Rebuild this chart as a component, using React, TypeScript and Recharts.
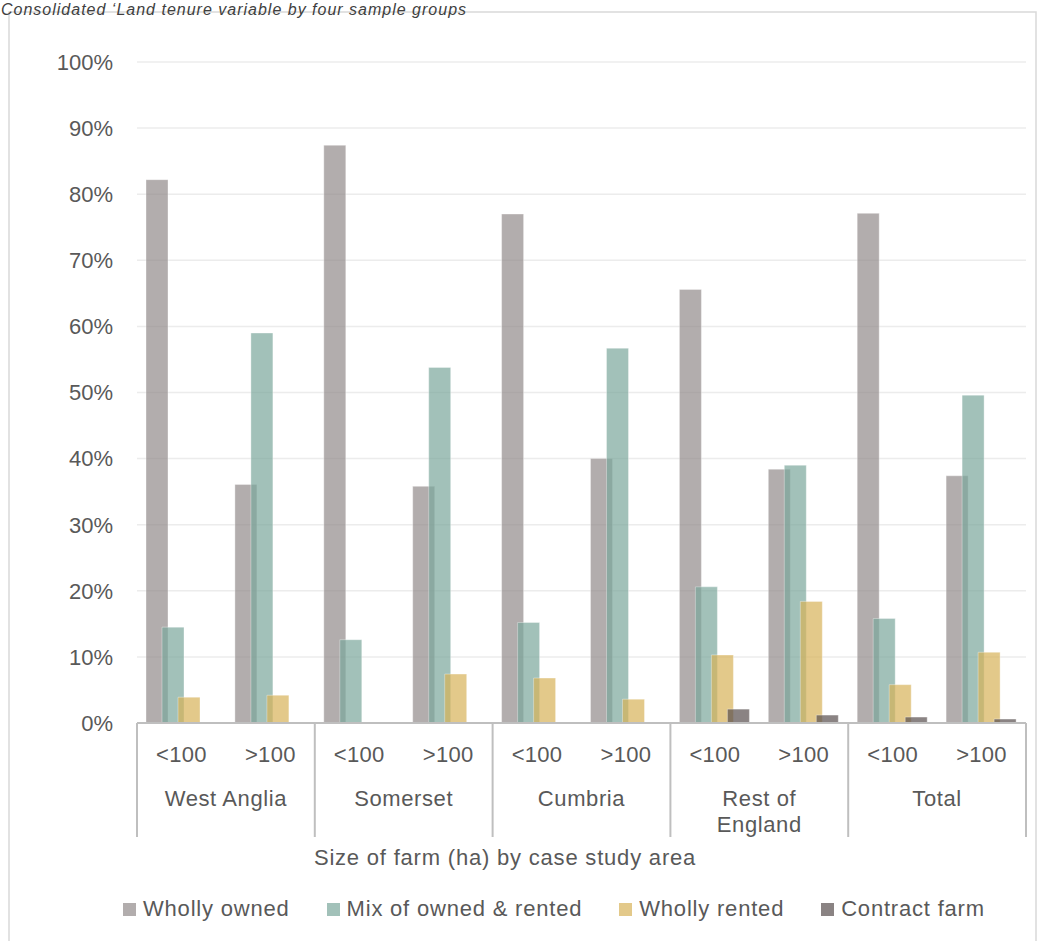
import React from "react";
import { BarChart, Bar, XAxis, YAxis, CartesianGrid, Legend } from "recharts";

// Case study areas, each split by farm size
const GROUPS = ["West Anglia", "Somerset", "Cumbria", "Rest of England", "Total"];
const SIZES = ["<100", ">100"];

// Share of farms (%) per tenure type, one entry per area/size pair
const WHOLLY_OWNED = [82.2, 36.1, 87.4, 35.8, 77.0, 40.0, 65.6, 38.4, 77.1, 37.4];
const MIX_OWNED_RENTED = [14.5, 59.0, 12.6, 53.8, 15.2, 56.7, 20.6, 39.0, 15.8, 49.6];
const WHOLLY_RENTED = [3.9, 4.2, 0, 7.4, 6.8, 3.6, 10.3, 18.4, 5.8, 10.7];
const CONTRACT_FARM = [0, 0, 0, 0, 0, 0, 2.1, 1.2, 0.9, 0.6];

const SERIES_NAMES = ["Wholly owned", "Mix of owned & rented", "Wholly rented", "Contract farm"];
const SERIES_KEYS = ["owned", "mix", "rented", "contract"];
const COLORS = ["#928a8a", "#7aa69b", "#d7b258", "#594f4f"];

const Y_TICKS = [0, 10, 20, 30, 40, 50, 60, 70, 80, 90, 100];

const data = GROUPS.flatMap((group, g) =>
  SIZES.map((size, s) => {
    const i = g * 2 + s;
    return {
      id: `${group} ${size}`,
      owned: WHOLLY_OWNED[i],
      mix: MIX_OWNED_RENTED[i],
      rented: WHOLLY_RENTED[i],
      contract: CONTRACT_FARM[i],
    };
  })
);

const WIDTH = 1041;
const HEIGHT = 941;
const PLOT_LEFT = 137;
const PLOT_RIGHT = 1026;
const BAND = (PLOT_RIGHT - PLOT_LEFT) / data.length;
const FONT = '"Liberation Sans", Arial, sans-serif';
const TEXT = "#595959";
const LINE = "#bfbfbf";

const wrapLabel = (label: string) => {
  if (label.length <= 12) return [label];
  const cut = label.lastIndexOf(" ");
  return [label.slice(0, cut), label.slice(cut + 1)];
};

const CategoryTick = (props: any) => {
  const { x, y, index } = props;
  const size = SIZES[index % 2];
  const group = GROUPS[Math.floor(index / 2)];
  const first = index % 2 === 0;
  const last = index === data.length - 1;
  return (
    <g fontFamily={FONT} fill={TEXT} fontSize={22}>
      <text x={x} y={y + 39} textAnchor="middle" letterSpacing={0.3}>
        {size}
      </text>
      {first && (
        <>
          <line x1={x - BAND / 2} x2={x - BAND / 2} y1={y} y2={y + 114} stroke={LINE} strokeWidth={2} />
          {wrapLabel(group).map((line, k) => (
            <text
              key={k}
              x={x + BAND / 2}
              y={y + 83 + k * 26}
              textAnchor="middle"
              letterSpacing={0.6}
            >
              {line}
            </text>
          ))}
        </>
      )}
      {last && (
        <line x1={x + BAND / 2} x2={x + BAND / 2} y1={y} y2={y + 114} stroke={LINE} strokeWidth={2} />
      )}
    </g>
  );
};

const LegendContent = () => (
  <div
    style={{
      display: "flex",
      alignItems: "center",
      height: 30,
      paddingLeft: 123,
      fontFamily: FONT,
      fontSize: 22,
      letterSpacing: 0.8,
      color: TEXT,
    }}
  >
    {SERIES_NAMES.map((name, i) => (
      <div key={name} style={{ display: "flex", alignItems: "center", marginRight: 37 }}>
        <span
          style={{
            width: 13,
            height: 13,
            background: COLORS[i],
            opacity: 0.7,
            marginRight: 7,
            display: "inline-block",
          }}
        />
        <span style={{ whiteSpace: "nowrap" }}>{name}</span>
      </div>
    ))}
  </div>
);

export default function App() {
  return (
    <div style={{ position: "absolute", left: 0, top: 0, width: WIDTH, height: HEIGHT, background: "#fff" }}>
      <svg width={WIDTH} height={HEIGHT} style={{ position: "absolute", left: 0, top: 0 }}>
        <rect x={9} y={12} width={1027} height={HEIGHT} fill="none" stroke="#d9d9d9" strokeWidth={1.5} />
        <text
          x={1}
          y={15}
          fontFamily={FONT}
          fontStyle="italic"
          fontSize={16}
          letterSpacing={1}
          fill="#404040"
        >
          Consolidated ‘Land tenure variable by four sample groups
        </text>
        <text
          x={505}
          y={865}
          textAnchor="middle"
          fontFamily={FONT}
          fontSize={22}
          letterSpacing={0.8}
          fill={TEXT}
        >
          Size of farm (ha) by case study area
        </text>
      </svg>
      <div style={{ position: "absolute", left: 0, top: 0 }}>
        <BarChart
          width={WIDTH}
          height={HEIGHT}
          data={data}
          margin={{ top: 62, right: WIDTH - PLOT_RIGHT, left: 0, bottom: 0 }}
          barSize={22}
          barGap={-6}
        >
          <CartesianGrid vertical={false} stroke="#ececec" strokeWidth={1.5} />
          <YAxis
            width={PLOT_LEFT}
            domain={[0, 100]}
            ticks={Y_TICKS}
            interval={0}
            tickFormatter={(v: number) => `${v}%`}
            axisLine={false}
            tickLine={false}
            tickSize={0}
            tickMargin={24}
            tick={{ fill: TEXT, fontSize: 22, fontFamily: FONT }}
          />
          <XAxis
            dataKey="id"
            height={188}
            interval={0}
            tickLine={false}
            tickSize={0}
            tickMargin={0}
            axisLine={{ stroke: LINE, strokeWidth: 2 }}
            tick={<CategoryTick />}
          />
          <Legend verticalAlign="bottom" height={30} content={<LegendContent />} wrapperStyle={{ left: 0, top: 894 }} />
          {SERIES_KEYS.map((key, i) => (
            <Bar
              key={key}
              dataKey={key}
              name={SERIES_NAMES[i]}
              fill={COLORS[i]}
              fillOpacity={0.7}
              stroke="#ffffff"
              strokeOpacity={0.35}
              strokeWidth={1}
              isAnimationActive={false}
            />
          ))}
        </BarChart>
      </div>
    </div>
  );
}
